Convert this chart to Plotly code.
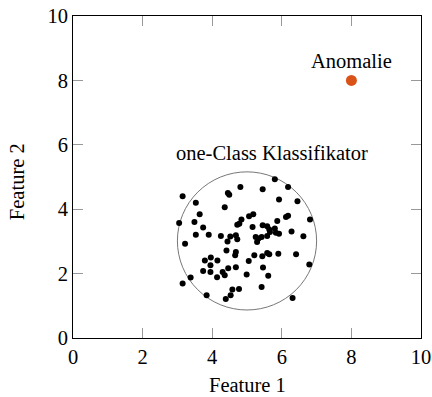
import plotly.graph_objects as go

# Normal samples (Feature 1, Feature 2)
feature1 = [3.15, 3.53, 4.45, 4.49, 4.81, 5.45, 5.80, 6.18, 5.92, 6.45,
            4.36, 3.64, 3.49, 3.05, 3.74, 3.53, 3.90, 4.25, 3.22, 4.52,
            4.68, 4.72, 4.44, 4.84, 4.78, 4.72, 5.06, 5.18, 5.16, 5.45,
            5.58, 5.64, 5.80, 5.87, 6.12, 6.18, 5.25, 5.33, 5.29, 5.42,
            5.58, 5.66, 5.83, 5.92, 6.28, 6.62, 6.81, 4.41, 4.68, 4.66,
            3.79, 3.96, 4.15, 3.95, 3.74, 3.95, 4.30, 4.36, 4.46, 4.68,
            4.14, 3.38, 3.15, 5.05, 5.21, 5.44, 5.58, 5.64, 5.90, 6.41,
            6.79, 4.99, 5.46, 5.61, 4.58, 4.77, 4.53, 4.39, 3.84, 5.42,
            6.31]
feature2 = [4.40, 4.20, 4.50, 4.45, 4.69, 4.62, 4.93, 4.69, 4.30, 4.25,
            4.06, 3.84, 3.60, 3.57, 3.43, 3.21, 3.21, 3.17, 2.93, 3.15,
            3.19, 3.07, 3.00, 3.68, 3.55, 3.52, 3.78, 3.84, 3.45, 3.50,
            3.47, 3.37, 3.40, 3.63, 3.76, 3.80, 3.14, 3.09, 2.98, 3.14,
            3.17, 3.29, 3.27, 3.24, 3.31, 3.16, 3.68, 2.72, 2.67, 2.57,
            2.41, 2.50, 2.41, 2.26, 2.08, 2.05, 2.05, 1.95, 2.17, 2.20,
            1.89, 1.88, 1.69, 2.39, 2.57, 2.54, 2.64, 2.60, 2.62, 2.60,
            2.28, 1.97, 2.19, 1.93, 1.51, 1.52, 1.33, 1.21, 1.33, 1.58,
            1.24]

# The outlier
anomaly_x = [8.0]
anomaly_y = [8.0]

# Decision boundary of the one-class classifier
boundary_x = [3.0, 7.0]
boundary_y = [0.87, 5.16]

tick_vals = [0, 2, 4, 6, 8, 10]

FONT = "Liberation Serif"
FS = 20.5

fig = go.Figure()
fig.add_trace(go.Scatter(x=feature1, y=feature2, mode="markers",
                         marker=dict(color="black", size=6),
                         hoverinfo="skip", showlegend=False))
fig.add_trace(go.Scatter(x=anomaly_x, y=anomaly_y, mode="markers",
                         marker=dict(color="#D95319", size=11),
                         hoverinfo="skip", showlegend=False))

fig.add_shape(type="circle", xref="x", yref="y",
              x0=boundary_x[0], x1=boundary_x[1],
              y0=boundary_y[0], y1=boundary_y[1],
              line=dict(color="#777777", width=1), layer="below")

fig.add_annotation(x=8.0, y=8.6, text="Anomalie", showarrow=False,
                   xanchor="center", yanchor="middle",
                   font=dict(family=FONT, size=FS, color="black"))
fig.add_annotation(x=5.71, y=5.76, text="one-Class Klassifikator",
                   showarrow=False, xanchor="center", yanchor="middle",
                   font=dict(family=FONT, size=FS, color="black"))

# Axis titles
fig.add_annotation(x=0.5, y=-0.145, xref="paper", yref="paper",
                   text="Feature 1", showarrow=False,
                   xanchor="center", yanchor="middle",
                   font=dict(family=FONT, size=FS, color="black"))
fig.add_annotation(x=-0.16, y=0.485, xref="paper", yref="paper",
                   text="Feature 2", showarrow=False, textangle=-90,
                   xanchor="center", yanchor="middle",
                   font=dict(family=FONT, size=FS, color="black"))

axis_common = dict(
    tickvals=tick_vals, ticktext=[str(v) for v in tick_vals],
    showgrid=False, zeroline=False,
    showline=True, linecolor="black", linewidth=1, mirror="allticks",
    ticks="inside", ticklen=10, tickcolor="#999999", tickwidth=1,
    tickfont=dict(family=FONT, size=FS, color="black"),
    fixedrange=True, automargin=False,
)
fig.update_xaxes(range=[0, 10], **axis_common)
fig.update_yaxes(range=[0, 10], **axis_common)

fig.update_layout(
    width=432, height=397,
    margin=dict(l=73, r=11, t=16, b=59, autoexpand=False),
    paper_bgcolor="white", plot_bgcolor="white",
    font=dict(family=FONT, size=FS, color="black"),
)

fig.write_html("out.html")
